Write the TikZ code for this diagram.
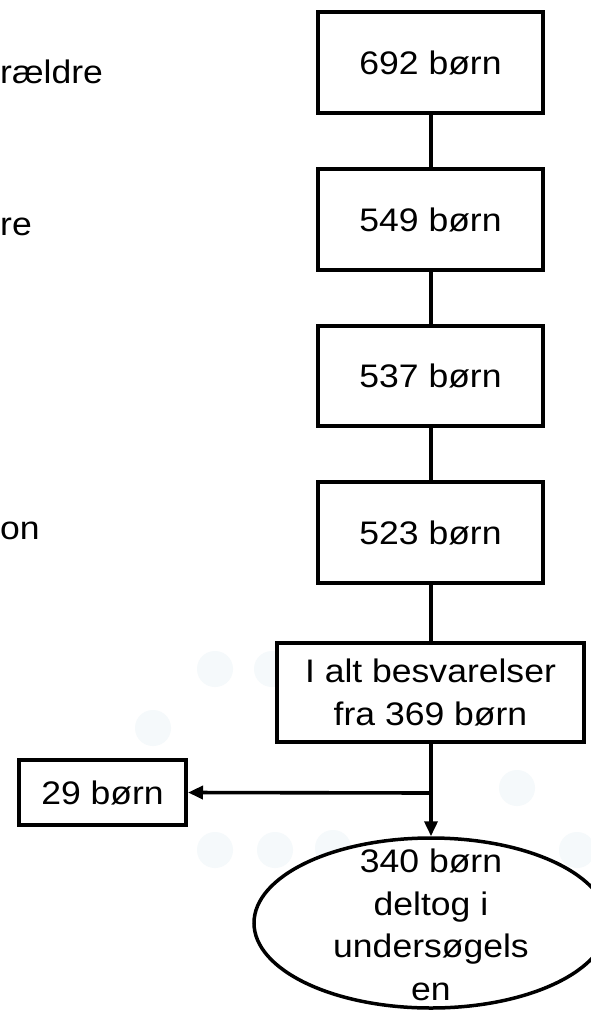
\documentclass[tikz,border=0pt]{standalone}
\usepackage{fontspec}
\setmainfont{Liberation Sans}[FakeStretch=1.09]
\usetikzlibrary{shapes.geometric,arrows.meta}
\definecolor{faint}{RGB}{245,249,251}
\tikzset{
  box/.style={draw=black, line width=4pt, fill=white, inner sep=0pt, align=center, font=\fontsize{32.6}{42.5}\selectfont},
  oval/.style={ellipse, draw=black, line width=3.5pt, fill=white, inner sep=0pt},
  label/.style={inner sep=0pt, align=center, font=\fontsize{32.6}{42.5}\selectfont},
  link/.style={line width=4pt},
  arr/.style={line width=3.6pt, -{Triangle[length=15pt,width=13pt]}},
  side/.style={anchor=base west, inner sep=0pt, font=\fontsize{32.6}{42.5}\selectfont},
  dot/.style={fill=faint, draw=none}
}
\begin{document}
\begin{tikzpicture}[x=1pt,y=-1pt]
\useasboundingbox (0,0) rectangle (590,1010);
\fill[white] (0,0) rectangle (590,1010);
% faint background dots
\foreach \p in {(215,669),(272,669),(153,728),(215,850),(275,850),(333,848),(517,788),(577,850)}
  \fill[dot] \p circle (18);
% texts at left
\node[side] (t1) at (0,83) {rældre};
\node[side] (t2) at (0,235) {re};
\node[side] (t3) at (0,539) {on};
% boxes
\node[box, minimum width=225pt, minimum height=101pt] (b1) at (430.5,62.5) {692 børn};
\node[box, minimum width=225pt, minimum height=101pt] (b2) at (430.5,219.5) {549 børn};
\node[box, minimum width=225pt, minimum height=100pt] (b3) at (430.5,376) {537 børn};
\node[box, minimum width=225pt, minimum height=101pt] (b4) at (430.5,532.5) {523 børn};
\node[box, minimum width=307pt, minimum height=99pt] (b5) at (430.5,692.5) {I alt besvarelser\\fra 369 børn};
\node[box, minimum width=167pt, minimum height=65pt] (b6) at (102.5,792.5) {29 børn};
\node[oval, minimum width=354pt, minimum height=170pt] (e) at (431,923) {};
\node[label] (et) at (431,925) {340 børn\\deltog i\\undersøgels\\en};
\coordinate (br) at (431,793);
% connectors
\draw[link] (b1.south) -- (b2.north);
\draw[link] (b2.south) -- (b3.north);
\draw[link] (b3.south) -- (b4.north);
\draw[link] (b4.south) -- (b5.north);
\draw[line width=3.6pt] (b5.south -| br) -- (br);
\draw[arr] (br) -- (br |- e.north);
\draw[arr] (br) -- (b6.east);
\end{tikzpicture}
\end{document}
